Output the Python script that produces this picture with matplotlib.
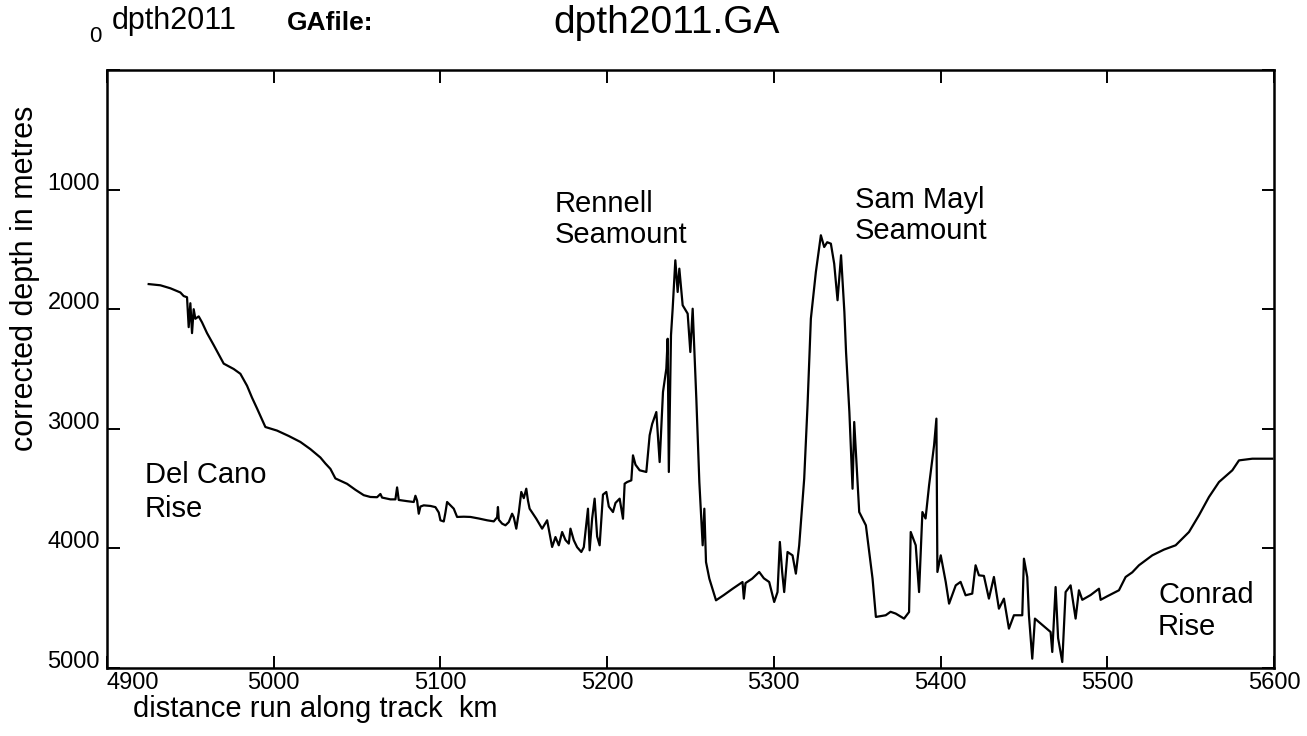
import matplotlib
matplotlib.use("Agg")
import matplotlib.pyplot as plt

plt.rcParams['font.family'] = ['Liberation Sans', 'DejaVu Sans']

# distance along track (km) and corrected depth (m)
km = [4925, 4932, 4938, 4944, 4946, 4948, 4949, 4950, 4951, 4952, 4953, 4955,
      4957, 4960, 4964, 4970, 4976, 4980, 4984, 4987, 4990, 4995, 5002, 5009,
      5016, 5022, 5028, 5031, 5034, 5037, 5044, 5049, 5054, 5058, 5062, 5064,
      5065, 5070, 5073, 5074, 5075, 5080, 5084, 5085, 5086, 5087, 5088, 5090,
      5094, 5097, 5099, 5100, 5102, 5103, 5104, 5106, 5108, 5110, 5114, 5118,
      5123, 5128, 5132, 5134, 5134.5, 5135, 5137, 5139, 5141, 5143, 5144,
      5145.5, 5147, 5148.5, 5150, 5151.5, 5152.5, 5153.5, 5157.5, 5161, 5164,
      5167, 5169, 5171, 5173, 5175, 5177, 5178, 5180, 5182, 5184.5, 5186,
      5188.5, 5189.5, 5191, 5192.5, 5194, 5195.5, 5197.5, 5199.5, 5201,
      5203.5, 5205, 5207.5, 5209.5, 5210.5, 5212, 5214.5, 5215.5, 5217,
      5219.5, 5223.5, 5225.5, 5227, 5229.5, 5231.5, 5233.5, 5235.5, 5236.3,
      5237, 5238.3, 5239.3, 5240.9, 5242.3, 5243.3, 5245.3, 5248.3, 5249.9,
      5251.3, 5252.5, 5253.5, 5255.3, 5257.3, 5258.3, 5259.3, 5261.3, 5265.3,
      5270, 5275.3, 5281.2, 5282, 5283, 5287, 5291.2, 5294, 5297.2, 5300.2,
      5302.2, 5303.6, 5305, 5306.2, 5308.2, 5311.2, 5313.2, 5315.2, 5318.2,
      5320.2, 5322.2, 5325.2, 5328.2, 5330.2, 5332, 5334.2, 5336.2, 5338.2,
      5340.3, 5342.3, 5343.3, 5345.3, 5347.2, 5348.2, 5351.2, 5355.2, 5356.2,
      5359.2, 5361.2, 5367.1, 5370, 5373.1, 5378.1, 5381.1, 5382.1, 5385.1,
      5387.1, 5389.1, 5391, 5393.1, 5396.1, 5397.5, 5398.1, 5400.1, 5403.1,
      5405.1, 5409.1, 5412, 5415, 5419, 5421, 5423, 5426, 5429, 5432, 5435,
      5438, 5441, 5444, 5449, 5450, 5452, 5453, 5455, 5456.6, 5466, 5467,
      5469, 5470.5, 5473, 5475, 5478, 5481, 5483, 5485, 5490, 5495, 5496,
      5500, 5507, 5511, 5515, 5519, 5527, 5534, 5541, 5549, 5555, 5561, 5567,
      5575, 5579, 5587, 5599]
depth = [1790, 1800, 1825, 1860, 1890, 1900, 2150, 1950, 2200, 2000, 2080, 2060,
         2110, 2200, 2300, 2455, 2500, 2540, 2640, 2740, 2830, 2985, 3015, 3060,
         3110, 3170, 3240, 3290, 3335, 3415, 3460, 3510, 3555, 3570, 3572, 3545,
         3575, 3590, 3590, 3490, 3595, 3605, 3612, 3560, 3600, 3710, 3650, 3640,
         3645, 3655, 3700, 3765, 3775, 3700, 3612, 3640, 3668, 3737, 3735, 3737,
         3750, 3765, 3774, 3740, 3654, 3760, 3793, 3807, 3780, 3710, 3740,
         3835, 3700, 3528, 3580, 3501, 3600, 3668, 3752, 3835, 3765,
         3988, 3905, 3974, 3863, 3930, 3960, 3835, 3932, 3990, 4030, 3990,
         3668, 4016, 3750, 3584, 3900, 3974, 3550, 3528, 3650,
         3696, 3620, 3584, 3752, 3459, 3445, 3431, 3222, 3300,
         3347, 3361, 3054, 2960, 2860, 3278, 2692, 2497, 2247,
         3361, 2218, 1996, 1591, 1856, 1661, 1967, 2037, 2358,
         1996, 2400, 2750, 3445, 3974, 3668, 4114, 4253, 4434,
         4390, 4337, 4281, 4420, 4290, 4253, 4197, 4250, 4281, 4448,
         4365, 3946, 4200, 4365, 4030, 4058, 4211, 3974, 3417,
         2804, 2079, 1689, 1382, 1480, 1440, 1452, 1620, 1925,
         1549, 2023, 2358, 2860, 3501, 2943, 3696, 3807, 3918,
         4253, 4573, 4559, 4530, 4545, 4587, 4532, 3863, 3974,
         4365, 3696, 3750, 3473, 3138, 2915, 4197, 4058, 4281,
         4462, 4309, 4280, 4392, 4378, 4141, 4225, 4230, 4420, 4239, 4504,
         4420, 4671, 4559, 4559, 4086, 4240, 4560, 4922, 4587, 4699, 4866,
         4323, 4750, 4950, 4365, 4309, 4587, 4350, 4430, 4390, 4337, 4430,
         4400, 4350, 4239, 4200, 4141, 4058, 4010, 3974, 3863, 3723, 3570, 3445,
         3347, 3264, 3250, 3250]

x_ticks = [4900, 5000, 5100, 5200, 5300, 5400, 5500, 5600]
y_ticks = [0, 1000, 2000, 3000, 4000, 5000]

W, H = 1307, 736


def fx(x):
    return x / W


def fy(y):
    return 1 - y / H


fig = plt.figure(figsize=(W / 100, H / 100), dpi=100)
ax = fig.add_axes([fx(107), fy(668), (1274 - 107) / W, (668 - 70) / H])

ax.plot(km, depth, color='black', lw=1.6)

ax.set_xlim(4900, 5600)
ax.set_ylim(5000, 0)
ax.set_xticks(x_ticks)
ax.set_xticklabels([str(v) for v in x_ticks])
ax.set_yticks(y_ticks)
ax.set_yticklabels([''] + [str(v) for v in y_ticks[1:]])
ax.tick_params(direction='in', top=True, right=True, length=9, width=1.4,
               labelsize=17, colors='black')
ax.tick_params(axis='x', pad=3)
ax.tick_params(axis='y', pad=5)
for lbl in ax.get_yticklabels():
    lbl.set_va('baseline')
ax.get_xticklabels()[0].set_ha('left')
for s in ax.spines.values():
    s.set_linewidth(1.8)

# header texts
fig.text(fx(95), fy(42), '0', fontsize=16, ha='center', va='baseline')
fig.text(fx(112), fy(29), 'dpth2011', fontsize=22, va='baseline')
fig.text(fx(287), fy(30), 'GAfile:', fontsize=19, fontweight='bold', va='baseline')
fig.text(fx(553), fy(33), 'dpth2011.GA', fontsize=28, va='baseline')

# axis labels
fig.text(fx(25), fy(278), 'corrected depth in metres', fontsize=22,
         rotation=90, ha='center', va='center')
fig.text(fx(133), fy(717), 'distance run along track  km', fontsize=21,
         va='baseline')

# feature names
notes = [(145, 483, 'Del Cano'), (145, 517, 'Rise'),
         (555, 212, 'Rennell'), (555, 243, 'Seamount'),
         (855, 208, 'Sam Mayl'), (855, 239, 'Seamount'),
         (1158, 603, 'Conrad'), (1158, 635, 'Rise')]
for x, y, t in notes:
    fig.text(fx(x), fy(y), t, fontsize=21, va='baseline')

fig.savefig('out.png', dpi=100)
